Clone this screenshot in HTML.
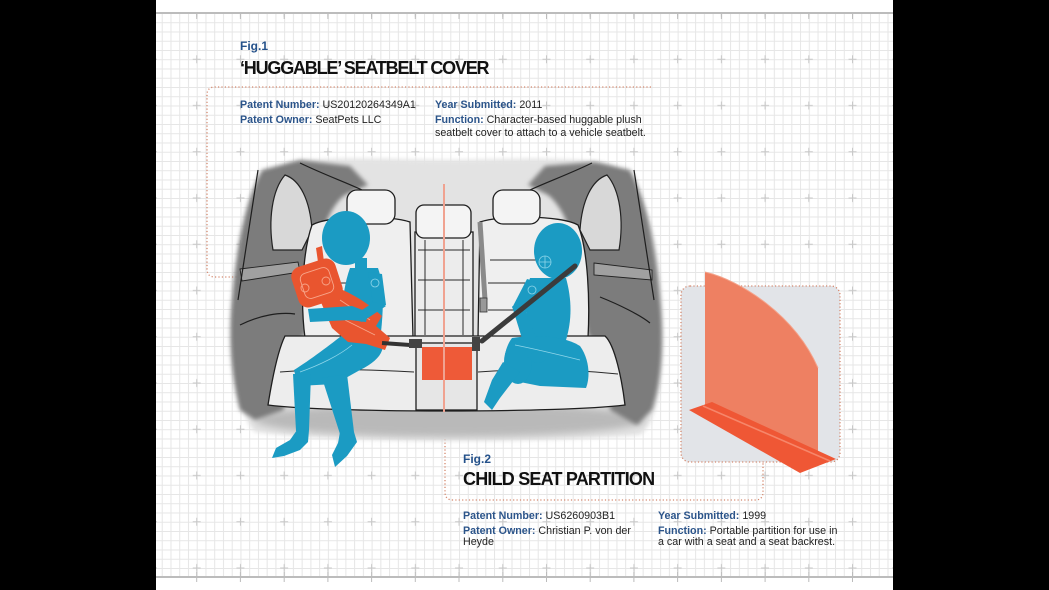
<!DOCTYPE html>
<html><head><meta charset="utf-8">
<style>
html,body{margin:0;padding:0;background:#000;}
#wrap{position:relative;width:1049px;height:590px;overflow:hidden;background:#000;}
svg{position:absolute;left:0;top:0;}
.t{position:absolute;font-family:"Liberation Sans",Arial,sans-serif;line-height:1;white-space:nowrap;color:#222;}
.fig{font-size:12px;font-weight:bold;color:#24518a;}
.ttl{font-size:18px;font-weight:bold;color:#111;}
.r{font-size:10.7px;}
.r b{color:#2b548a;}
</style></head><body><div id="wrap">
<svg width="1049" height="590" viewBox="0 0 1049 590">
<defs>
<pattern id="mn" x="153" y="13" width="8.744" height="9.25" patternUnits="userSpaceOnUse"><path d="M0.5,0V9.25M0,0.5H8.744" stroke="#e6e6e6" stroke-width="1" fill="none"/></pattern>
<pattern id="cr" x="131.14" y="-10.125" width="43.72" height="46.25" patternUnits="userSpaceOnUse"><path d="M21.86,19.1V27.1M17.86,23.125H25.86" stroke="#c8c8c8" stroke-width="1"/></pattern>
<filter id="b2" x="-20%" y="-20%" width="140%" height="140%"><feGaussianBlur stdDeviation="2"/></filter>
<filter id="b4" x="-20%" y="-50%" width="140%" height="200%"><feGaussianBlur stdDeviation="4"/></filter>
</defs>
<rect x="156" y="0" width="737" height="590" fill="#fff"/>
<rect x="156" y="14" width="737" height="563" fill="url(#mn)"/>
<rect x="156" y="14" width="737" height="563" fill="url(#cr)"/>
<line x1="156" y1="13" x2="893" y2="13" stroke="#bcbcbc" stroke-width="2"/>
<line x1="156" y1="577" x2="893" y2="577" stroke="#bcbcbc" stroke-width="2"/>
<g stroke="#bcbcbc" stroke-width="1">
<path d="M196.7,13V19M240.4,13V19M284.2,13V19M327.9,13V19M371.6,13V19M415.3,13V19M459,13V19M502.8,13V19M546.5,13V19M590.2,13V19M633.9,13V19M677.6,13V19M721.4,13V19M765.1,13V19M808.8,13V19M852.5,13V19"/>
<path d="M196.7,572V582M240.4,572V582M284.2,572V582M327.9,572V582M371.6,572V582M415.3,572V582M459,572V582M502.8,572V582M546.5,572V582M590.2,572V582M633.9,572V582M677.6,572V582M721.4,572V582M765.1,572V582M808.8,572V582M852.5,572V582"/>
</g>

<!-- dotted boxes -->
<g fill="none" stroke="#d4886e" stroke-width="1.3" stroke-dasharray="1.2 2.2">
<path d="M240,277 H215 Q207,277 207,269 V95 Q207,87 215,87 H653"/>
<path d="M445,412 V492 Q445,500 453,500 H755 Q763,500 763,492 V462"/>
</g>
<rect x="681" y="286" width="159" height="176" rx="9" fill="#e2e4e8" stroke="#d4886e" stroke-width="1.3" stroke-dasharray="1.2 2.2"/>

<!-- partition -->
<path d="M705,272 C740,280 795,315 818,368 L818,460 L705,408 Z" fill="#ee8062"/>
<path d="M705,272 C740,280 795,315 818,368" fill="none" stroke="#f4a48c" stroke-width="1"/>
<polygon points="689,410 712,402 836,459 800,473" fill="#ef5735"/>
<line x1="703" y1="406" x2="830" y2="461" stroke="#f6866a" stroke-width="1.6"/>

<!-- illustration -->
<path d="M236,310 C236,240 255,180 290,163 C330,155 400,160 446,160 C500,160 570,155 610,165 C645,185 660,240 662,310 C664,370 660,420 640,435 C560,442 330,442 255,432 C238,415 234,370 236,310Z" fill="#e3e3e3" filter="url(#b2)"/>
<ellipse cx="450" cy="420" rx="195" ry="17" fill="#b9b9b9" filter="url(#b4)"/>
<path d="M232,300 C236,250 245,200 262,170 L300,160 L350,166 L368,185 L345,195 C325,210 315,250 312,300 L305,335 C290,345 285,370 284,410 L255,420 L240,410 C232,380 228,340 232,300 Z" fill="#7c7c7c" filter="url(#b2)"/>
<path d="M660,300 C656,250 647,200 630,170 L595,162 L545,166 L528,185 L548,195 C567,210 580,250 583,300 L588,335 C602,345 607,370 610,410 L637,425 L652,410 C662,380 664,340 660,300 Z" fill="#7c7c7c" filter="url(#b2)"/>
<path d="M273,250 C268,220 272,190 285,175 C300,180 310,200 312,230 L302,250 Z" fill="#d8d8d8" stroke="#222" stroke-width="1.2"/>
<path d="M619,250 C624,220 620,190 607,175 C592,180 582,200 580,230 L590,250 Z" fill="#d8d8d8" stroke="#222" stroke-width="1.2"/>
<path d="M240,269 L298,262 L300,272 L242,281 Z" fill="#a0a0a0" stroke="#222" stroke-width="0.9"/>
<path d="M594,263 L652,270 L652,280 L594,275 Z" fill="#a0a0a0" stroke="#222" stroke-width="0.9"/>
<g fill="none" stroke="#1e1e1e" stroke-width="1.2">
<path d="M258,170 C250,220 244,260 238,300"/>
<path d="M634,170 C642,220 648,260 654,300"/>
<path d="M240,325 C260,315 280,312 295,314"/>
<path d="M600,297 C620,305 640,315 650,323"/>
<path d="M300,163 C325,175 345,182 362,190"/>
<path d="M592,163 C567,175 547,182 530,190"/>
</g>

<!-- seats -->
<g stroke="#1e1e1e" stroke-width="1.3">
<path d="M312,225 C330,215 390,215 410,222 L413,338 L305,338 C300,300 303,250 312,225Z" fill="#efefef"/>
<path d="M480,222 C500,215 560,215 578,225 C588,250 590,300 588,338 L478,338 Z" fill="#efefef"/>
<rect x="415" y="232" width="58" height="108" fill="#ececec"/>
<rect x="347" y="190" width="48" height="34" rx="10" fill="#f4f4f4"/>
<rect x="416" y="205" width="55" height="33" rx="8" fill="#f4f4f4"/>
<rect x="493" y="190" width="47" height="34" rx="10" fill="#f4f4f4"/>
<path d="M285,336 L605,336 C615,345 622,380 625,405 C560,413 330,413 268,405 C272,380 278,350 285,336Z" fill="#ededed"/>
<rect x="416" y="343" width="61" height="67" fill="#e6e6e6"/>
</g>
<g stroke="#2a2a2a" stroke-width="1" fill="none">
<path d="M425,240V335M463,240V335M418,250H470M418,280H470M418,310H470"/>
<path d="M490,260H545M488,283H550M488,310H555"/>
<path d="M320,283H360M315,310H345"/>
<path d="M280,372 C330,368 380,370 414,372M478,372 C530,368 580,370 618,374"/>
</g>
<rect x="422" y="347" width="50" height="33" fill="#ee5a38"/>
<line x1="444" y1="184" x2="444" y2="412" stroke="#f0a290" stroke-width="2"/>
<line x1="480" y1="222" x2="485" y2="300" stroke="#8a8a8a" stroke-width="5"/>
<rect x="480" y="298" width="7" height="14" fill="#999" stroke="#333" stroke-width="0.8"/>

<!-- figure 1 -->
<g fill="#1b9bc3">
<ellipse cx="346" cy="238" rx="24" ry="27"/>
<rect x="355" y="258" width="12" height="14"/>
<path d="M350,268 L378,268 C384,285 384,310 380,340 L345,345 C340,320 342,290 350,268Z"/>
<path d="M368,272 L382,274 L386,305 L374,310 Z"/>
<path d="M345,333 L382,336 C386,350 380,360 360,370 L335,384 L298,386 L294,370 C310,360 330,345 345,333Z"/>
<path d="M293,374 L311,374 L309,430 L296,431 Z"/>
<path d="M322,378 L347,374 L354,432 L340,434 Z"/>
<path d="M297,430 L309,430 L308,442 L300,450 L284,456 L272,458 L276,448 L290,440 Z"/>
<path d="M340,432 L354,432 L357,442 L347,456 L335,467 L332,455 L338,443 Z"/>
</g>
<g fill="#e9552f">
<rect x="294" y="262" width="46" height="42" rx="10" transform="rotate(-18 317 283)"/>
<path d="M328,284 C345,290 365,300 382,316 L376,326 L390,338 L385,350 L366,344 L348,342 L332,328 L320,300Z"/>
<path d="M316,248 L322,246 L324,262 L318,262Z"/>
</g>
<g fill="none" stroke="#f7a58a" stroke-width="0.9">
<rect x="302" y="270" width="30" height="26" rx="6" transform="rotate(-18 317 283)"/>
<circle cx="305" cy="288" r="4"/><circle cx="326" cy="281" r="4"/>
<path d="M340,300 L370,320M345,320 L375,335"/>
</g>
<g fill="#1b9bc3">
<path d="M374,302 L386,306 L362,322 L350,318 Z"/>
<path d="M308,309 L352,306 L368,312 L366,322 L350,320 L310,322 Z"/>
</g>
<line x1="382" y1="343" x2="410" y2="345" stroke="#333" stroke-width="4"/>
<rect x="409" y="339" width="13" height="9" fill="#444"/>

<!-- figure 2 -->
<g fill="#1b9bc3">
<ellipse cx="558" cy="251" rx="24" ry="28"/>
<path d="M530,278 L566,278 C572,300 572,320 566,340 L540,344 C525,330 522,300 530,278Z"/>
<path d="M512,338 C535,334 565,336 580,346 C590,360 590,378 586,388 L540,386 L510,380 C502,368 503,350 512,338Z"/>
<ellipse cx="518" cy="362" rx="14" ry="22"/>
<path d="M503,362 L520,372 L500,398 L492,410 L484,402 L492,380Z"/>
<path d="M527,279 L541,283 L526,313 L512,308Z"/>
<path d="M512,306 L526,312 L542,354 L528,358Z"/>
<ellipse cx="538" cy="357" rx="8" ry="6"/>
</g>
<line x1="575" y1="266" x2="482" y2="341" stroke="#3b3b3b" stroke-width="5" stroke-linecap="round"/>
<rect x="472" y="337" width="8" height="14" fill="#444"/>
<g fill="none" stroke="#8fd6ea" stroke-width="0.8">
<circle cx="545" cy="262" r="6"/><path d="M539,262H551M545,256V268"/>
<circle cx="532" cy="290" r="4"/><circle cx="375" cy="283" r="4"/>
<path d="M352,345 C340,355 320,365 300,372M515,345 C540,350 560,355 580,360"/>
</g>
</svg>

<div class="t fig" style="left:240px;top:39.8px;">Fig.1</div>
<div class="t ttl" style="left:240px;top:58.8px;letter-spacing:-1.2px;">‘HUGGABLE’ SEATBELT COVER</div>
<div class="t r" style="left:240px;top:99.9px;"><b>Patent Number:</b> US20120264349A1</div>
<div class="t r" style="left:240px;top:115.2px;"><b>Patent Owner:</b> SeatPets LLC</div>
<div class="t r" style="left:435px;top:99.9px;"><b>Year Submitted:</b> 2011</div>
<div class="t r" style="left:435px;top:115.2px;"><b>Function:</b> Character-based huggable plush</div>
<div class="t r" style="left:435px;top:127.9px;">seatbelt cover to attach to a vehicle seatbelt.</div>

<div class="t fig" style="left:463px;top:453.1px;">Fig.2</div>
<div class="t ttl" style="left:463px;top:469.8px;letter-spacing:-0.8px;">CHILD SEAT PARTITION</div>
<div class="t r" style="left:463px;top:510.9px;"><b>Patent Number:</b> US6260903B1</div>
<div class="t r" style="left:463px;top:525.9px;"><b>Patent Owner:</b> Christian P. von der</div>
<div class="t r" style="left:463px;top:536.9px;">Heyde</div>
<div class="t r" style="left:658px;top:510.9px;"><b>Year Submitted:</b> 1999</div>
<div class="t r" style="left:658px;top:525.9px;"><b>Function:</b> Portable partition for use in</div>
<div class="t r" style="left:658px;top:536.9px;">a car with a seat and a seat backrest.</div>
</div></body></html>
